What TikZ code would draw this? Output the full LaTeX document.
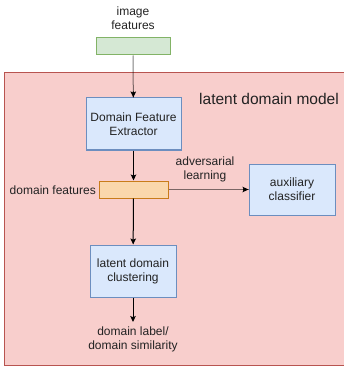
\documentclass[tikz,border=0pt]{standalone}
\usepackage{fontspec}
\setmainfont{Liberation Sans}
\usetikzlibrary{arrows.meta}
\definecolor{txt}{HTML}{222222}
\definecolor{pinkfill}{HTML}{F8CECC}\definecolor{pinkline}{HTML}{B85450}
\definecolor{bluefill}{HTML}{DAE8FC}\definecolor{blueline}{HTML}{6C8EBF}
\definecolor{greenfill}{HTML}{D5E8D4}\definecolor{greenline}{HTML}{82B366}
\definecolor{orangefill}{HTML}{FAD7AC}\definecolor{orangeline}{HTML}{C97C1A}
\tikzset{
  lbl/.style={text=txt, font=\fontsize{12pt}{14pt}\selectfont, align=center, inner sep=0pt},
  block/.style={draw=blueline, fill=bluefill, line width=1pt, text=txt,
    font=\fontsize{12pt}{14pt}\selectfont, align=center, inner sep=0pt},
  bar/.style={line width=1pt, inner sep=0pt},
  flow/.style={line width=1pt, -{Stealth[length=6pt,width=5.5pt,inset=1.2pt]}},
  fadedline/.style={line width=1pt, draw opacity=0.5},
}
\begin{document}
\begin{tikzpicture}[x=1pt,y=-1pt]
\useasboundingbox (0,0) rectangle (343,366);
% model container, running past the right edge
\filldraw[draw=pinkline, fill=pinkfill, line width=1pt] (4.5,73) rectangle (350,365);
\node[lbl, font=\fontsize{15.5pt}{18pt}\selectfont] (title) at (269,99) {latent domain model};

% input
\node[lbl] (imglbl) at (133,18) {image\\features};
\node[bar, draw=greenline, fill=greenfill, minimum width=74pt, minimum height=17pt] (img) at (133,46.5) {};

% blocks
\node[block, minimum width=95pt, minimum height=52pt] (dfe) at (133.5,124) {Domain Feature\\Extractor};
\node[bar, draw=orangeline, fill=orangefill, minimum width=69pt, minimum height=17pt] (feat) at (133.5,189.5) {};
\node[lbl, anchor=east] (featlbl) at (96,190) {domain features};
\node[block, minimum width=86pt, minimum height=51pt] (aux) at (292,189.5) {auxiliary\\classifier};
\node[lbl] (advlbl) at (205,169.5) {adversarial\\learning};
\node[block, minimum width=86pt, minimum height=52pt] (ldc) at (133,271) {latent domain\\clustering};
\coordinate (outp) at (133,322);
\node[lbl] (outlbl) at (133,339) {domain label/\\domain similarity};

% connectors: half-transparent shafts with solid heads
\draw[fadedline] (img) -- (dfe);
\draw[flow, shorten <=36pt] (img) -- (dfe);
\draw[flow] (dfe) -- (feat);
\draw[fadedline] (feat) -- (aux);
\draw[flow, shorten <=74pt] (feat) -- (aux);
\draw[flow] (feat) -- (ldc);
\draw[flow] (ldc) -- (outp);
\end{tikzpicture}
\end{document}
